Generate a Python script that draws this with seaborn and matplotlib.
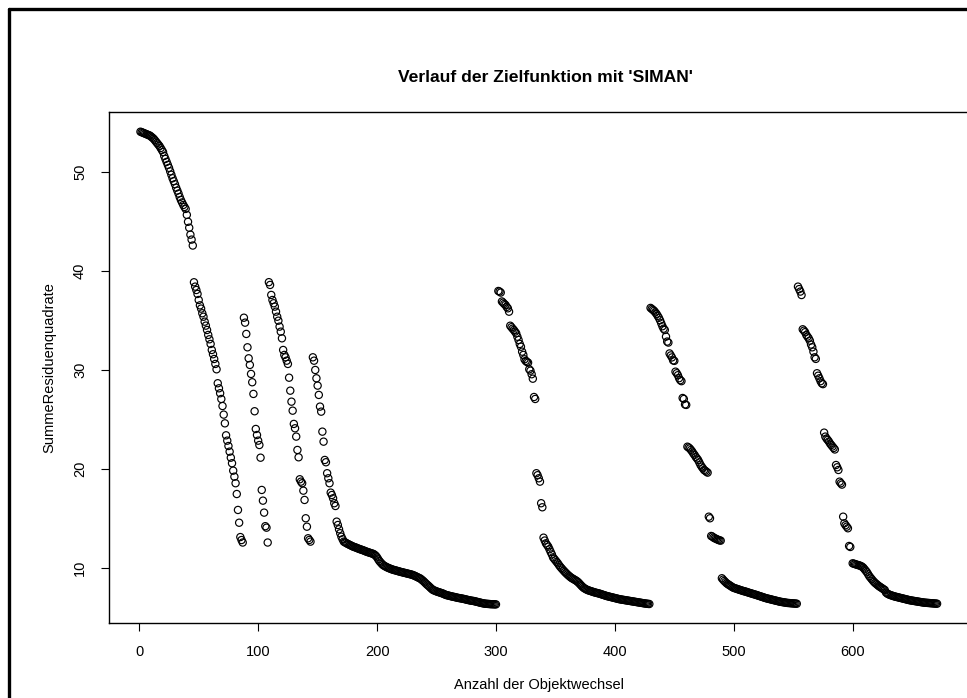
import numpy as np
import pandas as pd
import matplotlib
matplotlib.use("Agg")
import matplotlib.pyplot as plt
from matplotlib.lines import Line2D
import seaborn as sns

# ---- data ----
seg_a = [54.10, 54.05, 54.00, 53.95, 53.90, 53.85, 53.80, 53.75, 53.70, 53.60,
         53.50, 53.40, 53.25, 53.10, 52.95, 52.80, 52.65, 52.45, 52.25, 52.05,
         51.65, 51.35, 51.05, 50.75, 50.45, 50.10, 49.75, 49.40, 49.10, 48.80,
         48.45, 48.15, 47.85, 47.50, 47.20, 46.95, 46.70, 46.50, 46.30, 45.70,
         45.00, 44.40, 43.70, 43.20, 42.60]
seg_b = [38.89, 38.45, 38.11, 37.71, 37.10, 36.56, 36.23, 35.76, 35.41, 34.91,
         34.51, 34.07, 33.57, 33.13, 32.66, 32.05, 31.62, 31.14, 30.64, 30.10,
         28.69, 28.18, 27.68, 27.10, 26.39, 25.52, 24.64, 23.43, 22.89, 22.35,
         21.78, 21.17, 20.61, 19.86, 19.25, 18.59, 17.50, 15.89, 14.60, 13.15,
         12.85, 12.60]
seg_c = [35.31, 34.81, 33.67, 32.32, 31.21, 30.54, 29.63, 28.79, 27.61, 25.86,
         24.07, 23.46, 22.89, 22.45, 21.17, 17.91, 16.83, 15.62, 14.25, 14.10,
         12.60]
seg_d = [38.90, 38.62, 37.61, 37.10, 36.77, 36.43, 35.92, 35.41, 35.01, 34.41,
         33.90, 33.23, 32.05, 31.55, 31.31, 30.97, 30.64, 29.25, 27.94, 26.83,
         25.92, 24.58, 24.14, 23.30, 21.95, 21.21, 18.99, 18.75, 18.59, 17.84,
         16.90, 15.05, 14.20, 13.03, 12.86, 12.69]
seg_e = [31.31, 30.97, 30.03, 29.19, 28.45, 27.51, 26.33, 25.82, 23.80, 22.79,
         20.94, 20.71, 19.60, 19.09, 18.59, 17.64, 17.40, 17.07, 16.57, 16.29,
         14.71, 14.37, 13.94, 13.54, 13.19, 12.93]
tail_1 = [12.69, 12.62, 12.55, 12.48, 12.42, 12.36, 12.30, 12.24, 12.18, 12.14,
          12.10, 12.05, 12.00, 11.95, 11.91, 11.87, 11.83, 11.78, 11.73, 11.68,
          11.64, 11.60, 11.56, 11.52, 11.48, 11.44, 11.36, 11.25, 11.10, 10.90,
          10.72, 10.58, 10.45, 10.33, 10.25, 10.18, 10.12, 10.06, 10.01, 9.96,
          9.91, 9.87, 9.83, 9.80, 9.77, 9.73, 9.70, 9.66, 9.63, 9.60,
          9.57, 9.54, 9.51, 9.48, 9.45, 9.42, 9.39, 9.36, 9.32, 9.27,
          9.22, 9.16, 9.10, 9.04, 8.99, 8.90, 8.80, 8.70, 8.58, 8.46,
          8.35, 8.25, 8.14, 8.02, 7.91, 7.81, 7.76, 7.71, 7.66, 7.62,
          7.58, 7.54, 7.50, 7.46, 7.41, 7.35, 7.30, 7.27, 7.24, 7.21,
          7.18, 7.15, 7.12, 7.10, 7.07, 7.04, 7.01, 6.99, 6.97, 6.95,
          6.92, 6.90, 6.87, 6.84, 6.81, 6.78, 6.76, 6.73, 6.71, 6.70,
          6.67, 6.64, 6.61, 6.58, 6.55, 6.52, 6.49, 6.46, 6.44, 6.42,
          6.41, 6.40, 6.39, 6.38, 6.37, 6.37, 6.36, 6.36, 6.35]
seg_f = [38.01, 37.95, 37.85, 36.95, 36.83, 36.70, 36.60, 36.40, 36.26, 35.92,
         34.50, 34.35, 34.20, 34.07, 33.90, 33.74, 33.39, 33.06, 32.66, 32.38,
         31.88, 31.55, 31.11, 30.94, 30.85, 30.77, 30.10, 29.96, 29.60, 29.15,
         27.30, 27.10, 19.60, 19.40, 19.09, 18.75, 16.57, 16.16, 13.09, 12.80,
         12.52, 12.35]
tail_2 = [12.18, 11.92, 11.65, 11.40, 11.10, 10.95, 10.80, 10.65, 10.50, 10.32,
          10.16, 10.02, 9.88, 9.75, 9.62, 9.50, 9.38, 9.27, 9.17, 9.07,
          8.99, 8.92, 8.85, 8.78, 8.70, 8.60, 8.48, 8.35, 8.22, 8.10,
          8.00, 7.93, 7.86, 7.80, 7.76, 7.72, 7.68, 7.64, 7.60, 7.56,
          7.53, 7.50, 7.47, 7.44, 7.40, 7.36, 7.32, 7.28, 7.24, 7.20,
          7.17, 7.14, 7.11, 7.08, 7.05, 7.02, 6.99, 6.96, 6.93, 6.90,
          6.87, 6.85, 6.83, 6.81, 6.79, 6.77, 6.75, 6.73, 6.71, 6.69,
          6.67, 6.65, 6.63, 6.61, 6.59, 6.57, 6.55, 6.53, 6.51, 6.49,
          6.47, 6.45, 6.43, 6.42, 6.40, 6.39]
seg_g = [36.30, 36.20, 36.10, 36.00, 35.85, 35.70, 35.50, 35.30, 35.05, 34.75,
         34.45, 34.20, 34.07, 33.40, 32.90, 32.80, 31.70, 31.50, 31.30, 31.00,
         30.95, 29.86, 29.70, 29.50, 29.20, 29.00, 28.90, 27.20, 27.10, 26.55,
         26.50, 22.28, 22.20, 22.10, 21.95, 21.80, 21.60, 21.45, 21.25, 21.10,
         20.94, 20.70, 20.45, 20.26, 20.10, 19.93, 19.85, 19.75, 19.66, 15.21,
         15.05, 13.26, 13.20, 13.10, 13.03, 12.98, 12.92, 12.86, 12.82, 12.79]
tail_3 = [8.99, 8.85, 8.72, 8.60, 8.48, 8.40, 8.32, 8.24, 8.16, 8.08,
          8.02, 7.98, 7.94, 7.90, 7.86, 7.82, 7.78, 7.74, 7.70, 7.67,
          7.64, 7.60, 7.56, 7.52, 7.48, 7.45, 7.41, 7.37, 7.34, 7.30,
          7.26, 7.22, 7.18, 7.14, 7.10, 7.06, 7.02, 6.98, 6.95, 6.92,
          6.89, 6.86, 6.83, 6.80, 6.77, 6.74, 6.71, 6.68, 6.65, 6.62,
          6.60, 6.58, 6.56, 6.54, 6.52, 6.50, 6.49, 6.48, 6.47, 6.46,
          6.45, 6.44, 6.43, 6.42]
seg_h = [38.45, 38.20, 37.95, 37.60, 34.14, 34.00, 33.85, 33.57, 33.40, 33.23,
         32.99, 32.60, 32.32, 31.88, 31.31, 31.15, 29.70, 29.45, 29.19, 28.90,
         28.69, 28.60, 23.70, 23.30, 23.10, 22.96, 22.80, 22.60, 22.45, 22.30,
         22.15, 22.00, 20.43, 20.20, 19.93, 18.75, 18.59, 18.45, 15.21, 14.54,
         14.35, 14.20, 14.04, 12.25, 12.15]
tail_4 = [10.50, 10.46, 10.42, 10.38, 10.34, 10.31, 10.27, 10.22, 10.15, 10.05,
          9.90, 9.75, 9.60, 9.40, 9.20, 9.05, 8.90, 8.75, 8.62, 8.50,
          8.40, 8.30, 8.20, 8.12, 8.04, 7.96, 7.88, 7.80, 7.55, 7.45,
          7.38, 7.33, 7.28, 7.24, 7.20, 7.16, 7.13, 7.10, 7.07, 7.04,
          7.01, 6.98, 6.95, 6.92, 6.89, 6.86, 6.83, 6.80, 6.77, 6.75,
          6.73, 6.71, 6.69, 6.67, 6.65, 6.63, 6.61, 6.59, 6.57, 6.55,
          6.53, 6.52, 6.51, 6.50, 6.49, 6.48, 6.47, 6.46, 6.45, 6.44,
          6.43, 6.42]

segments = [seg_a, seg_b, seg_c, seg_d, seg_e, tail_1, seg_f, tail_2,
            seg_g, tail_3, seg_h, tail_4]
segment_starts = [1, 46, 88, 109, 146, 172, 302, 344, 430, 490, 554, 600]

x_ticks = [0, 100, 200, 300, 400, 500, 600]
y_ticks = [10, 20, 30, 40, 50]
title = "Verlauf der Zielfunktion mit 'SIMAN'"
x_label = "Anzahl der Objektwechsel"
y_label = "SummeResiduenquadrate"

xs, ys = [], []
for start, seg in zip(segment_starts, segments):
    xs.extend(range(start, start + len(seg)))
    ys.extend(seg)
df = pd.DataFrame({"Objektwechsel": xs, "SummeResiduenquadrate": ys})

# ---- drawing ----
sns.set_style("white")
plt.rcParams["font.family"] = ["Liberation Sans", "DejaVu Sans"]
plt.rcParams["text.color"] = "black"
plt.rcParams["axes.labelcolor"] = "black"

W, H = 967, 698
fig = plt.figure(figsize=(W / 100, H / 100), dpi=100)
ax_l, ax_r, ax_t, ax_b = 108.6, 968.0, 112.0, 623.0
ax = fig.add_axes([ax_l / W, (H - ax_b) / H, (ax_r - ax_l) / W, (ax_b - ax_t) / H])

sns.scatterplot(data=df, x="Objektwechsel", y="SummeResiduenquadrate", ax=ax,
                marker="o", s=27, facecolor="none", edgecolor="black",
                linewidth=0.85, legend=False)
for coll in ax.collections:
    coll.set_facecolor("none")
    coll.set_edgecolor("black")

ax.set_xlim(-25.8, 697.0)
ax.set_ylim(4.47, 56.09)
ax.set_xticks(x_ticks)
ax.set_yticks(y_ticks)
for sp in ax.spines.values():
    sp.set_visible(True)
    sp.set_color("black")
    sp.set_linewidth(1.0)
ax.tick_params(direction="out", length=6, width=0.8, pad=9.5,
               labelsize=10.5, colors="black", bottom=True, left=True)
ax.tick_params(axis="y", labelrotation=90)
for lab in ax.get_yticklabels():
    lab.set_va("center")

ax.set_xlabel(x_label, fontsize=10.5, color="black")
ax.set_ylabel(y_label, fontsize=10.5, color="black")
ax.xaxis.set_label_coords(0.5 + (539 - (ax_l + ax_r) / 2) / (ax_r - ax_l),
                          -(685 - ax_b) / (ax_b - ax_t))
ax.xaxis.label.set_va("center")
ax.yaxis.set_label_coords(-(ax_l - 49) / (ax_r - ax_l), 0.5)
ax.yaxis.label.set_va("center")

fig.text(545 / W, 1 - 78 / H, title, ha="center", va="center",
         fontsize=12.6, fontweight="bold", color="black")

# outer frame (top and left borders visible in the reference)
fig.add_artist(Line2D([9 / W, 1.0], [1 - 9 / H, 1 - 9 / H], color="black",
                      linewidth=2.4, transform=fig.transFigure))
fig.add_artist(Line2D([9 / W, 9 / W], [0.0, 1 - 9 / H], color="black",
                      linewidth=2.4, transform=fig.transFigure))

fig.savefig("out.png", dpi=100)
